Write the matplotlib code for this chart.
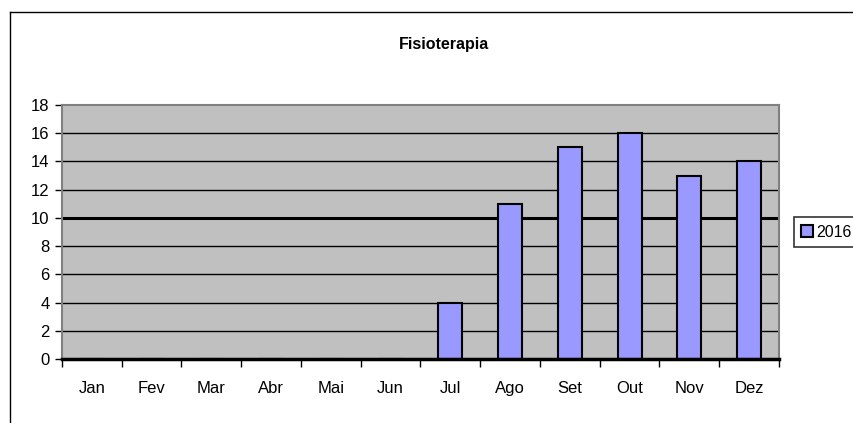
import matplotlib
matplotlib.use("Agg")
import matplotlib.pyplot as plt
from matplotlib.lines import Line2D

months = ["Jan", "Fev", "Mar", "Abr", "Mai", "Jun", "Jul", "Ago", "Set", "Out", "Nov", "Dez"]
values_2016 = [0, 0, 0, 0, 0, 0, 4, 11, 15, 16, 13, 14]
series_name = "2016"
title = "Fisioterapia"
yticks = [0, 2, 4, 6, 8, 10, 12, 14, 16, 18]

plt.rcParams['font.family'] = ['Liberation Sans', 'DejaVu Sans']

W, H = 854, 423
fig = plt.figure(figsize=(W / 100, H / 100), dpi=100)
fig.patch.set_facecolor("white")

# outer chart frame (cropped at right/bottom)
fig.add_artist(Line2D([10 / W, 1.0], [1 - 12 / H, 1 - 12 / H], transform=fig.transFigure, color="black", lw=1))
fig.add_artist(Line2D([10 / W, 10 / W], [0, 1 - 12 / H], transform=fig.transFigure, color="black", lw=1))

left, right, top, bottom = 62, 779, 105, 359
ax = fig.add_axes([left / W, 1 - bottom / H, (right - left) / W, (bottom - top) / H])
ax.set_facecolor("#C0C0C0")

x = list(range(len(months)))
ax.bar(x, values_2016, width=0.4, color="#9999FF", edgecolor="black", linewidth=1.5, zorder=3, label=series_name)

ax.set_xlim(-0.5, len(months) - 0.5)
ax.set_ylim(0, 18)
ax.set_yticks(yticks)
ax.set_yticklabels([str(v) for v in yticks], fontsize=12)
for v in yticks[1:-1]:
    ax.axhline(v, color="black", lw=2.2 if v == 10 else 1.0, zorder=1)

ax.set_xticks([i - 0.5 for i in range(len(months) + 1)], minor=False)
ax.set_xticklabels([])
ax.set_xticks(x, minor=True)
ax.set_xticklabels(months, minor=True, fontsize=12)
ax.tick_params(axis="x", which="major", length=6, width=1, direction="out", color="black")
ax.tick_params(axis="x", which="minor", length=0, pad=16)
ax.tick_params(axis="y", length=5, width=1, direction="out", pad=4)

for s in ["left", "top", "right"]:
    ax.spines[s].set_color("#808080")
    ax.spines[s].set_linewidth(1.5)
ax.spines["bottom"].set_color("black")
ax.spines["bottom"].set_linewidth(2.5)
ax.spines["bottom"].set_zorder(5)

fig.text(444 / W, 1 - 45 / H, title, ha="center", va="center", fontsize=11.5, fontweight="bold")

leg = fig.legend(loc="center left", bbox_to_anchor=(794 / W, 1 - 232 / H), fontsize=11.5,
                 frameon=True, fancybox=False, edgecolor="black", handlelength=0.75,
                 handleheight=0.75, handletextpad=0.2, borderpad=0.45, borderaxespad=0)
leg.get_frame().set_linewidth(1.2)

fig.savefig("out.png", dpi=100)
